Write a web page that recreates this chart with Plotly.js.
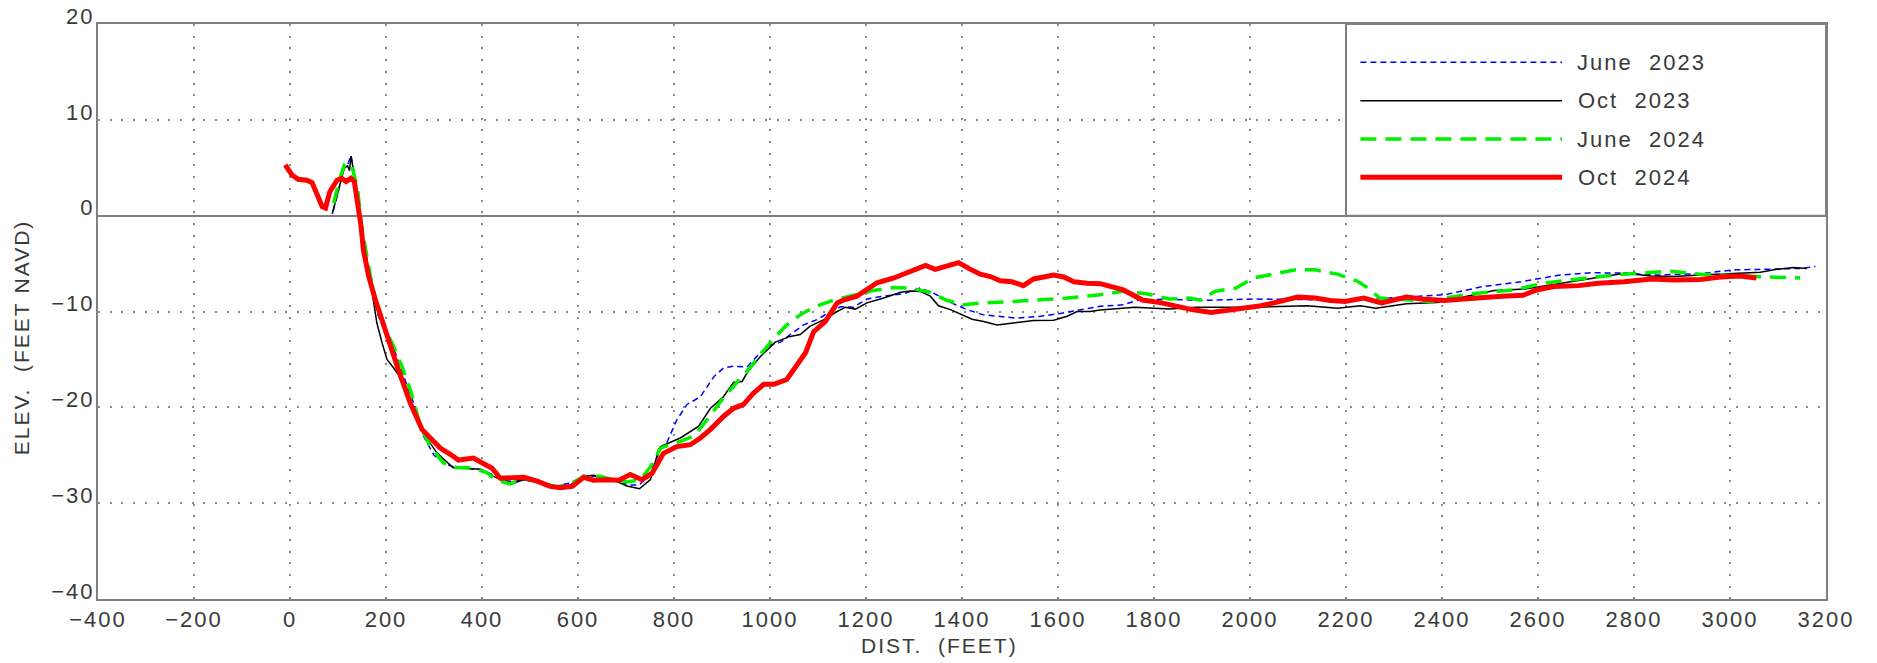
<!DOCTYPE html>
<html>
<head>
<meta charset="utf-8">
<script src="https://cdn.plot.ly/plotly-3.0.1.min.js"></script>
<style>
  html, body { margin: 0; padding: 0; background: #ffffff; }
  #chart { width: 1877px; height: 663px; }
  /* plotter-style lettering: open tracking on every label */
  #chart text { letter-spacing: 2px; }
</style>
</head>
<body>
<div id="chart"></div>
<script>
// Beach profile survey: distance offshore (ft) vs elevation (ft NAVD)
const surveyNames = ["June\u00a0\u00a02023", "Oct\u00a0\u00a02023", "June\u00a0\u00a02024", "Oct\u00a0\u00a02024"];

const june2023Dist = [90, 101, 113, 120, 127, 137, 147, 155, 168, 182, 196, 212, 230, 250, 265, 278, 300, 320, 345, 375,
  400, 425, 445, 466, 490, 520, 556, 584, 612, 640, 681, 709, 728, 751, 772, 785, 806, 827, 855, 883,
  903, 924, 952, 980, 1001, 1022, 1042, 1070, 1098, 1126, 1147, 1174, 1202, 1237, 1278, 1313, 1341, 1376, 1410, 1445,
  1515, 1563, 1605, 1640, 1688, 1736, 1768, 1832, 1895, 2007, 2127, 2206, 2286, 2406, 2485, 2565, 2645, 2709, 2780, 2844,
  2938, 3008, 3077, 3147, 3178];
const june2023Elev = [0.5, 2.8, 5.0, 5.3, 6.3, 3.6, -0.9, -3.0, -6.8, -10.2, -11.9, -13.3, -15.8, -18.5, -20.6, -23.0, -25.0, -25.8, -26.3, -26.4,
  -26.5, -27.1, -27.6, -27.8, -27.4, -27.8, -28.2, -27.9, -27.2, -27.2, -27.7, -28.1, -28.1, -26.85, -24.4, -23.7, -21.3, -19.7, -18.9, -16.8,
  -15.9, -15.7, -15.8, -14.3, -13.5, -13.2, -12.4, -11.4, -10.85, -10.0, -9.5, -9.55, -8.7, -8.4, -8.15, -7.55, -8.1, -9.05, -9.8, -10.35,
  -10.7, -10.5, -10.2, -9.9, -9.45, -9.3, -8.8, -8.7, -8.85, -8.7, -8.8, -8.8, -8.6, -8.25, -7.4, -6.9, -6.2, -5.95, -6.0, -6.2,
  -6.05, -5.65, -5.6, -5.5, -5.3];

const oct2023Dist = [88, 101, 113, 120, 124, 127, 136, 146, 153, 167, 181, 192, 202, 216, 226, 244, 265, 282, 306, 340,
  369, 397, 424, 445, 466, 487, 521, 556, 584, 612, 632, 674, 702, 728, 751, 768, 772, 813, 851, 876,
  903, 924, 942, 952, 980, 1011, 1042, 1063, 1083, 1119, 1140, 1157, 1178, 1202, 1237, 1272, 1292, 1313, 1334, 1351,
  1376, 1400, 1421, 1445, 1473, 1515, 1549, 1591, 1619, 1640, 1667, 1688, 1760, 1832, 1888, 2007, 2119, 2182, 2230, 2262,
  2326, 2390, 2445, 2509, 2573, 2645, 2717, 2780, 2836, 2884, 2938, 3008, 3063, 3098, 3132, 3160];
const oct2023Elev = [0.2, 2.7, 4.95, 5.2, 4.7, 6.2, 3.7, -0.8, -2.5, -6.7, -11.2, -13.3, -15.0, -15.9, -16.6, -18.85, -20.95, -23.0, -24.75, -26.3,
  -26.4, -26.45, -27.2, -27.7, -27.9, -27.55, -27.9, -28.4, -28.1, -27.2, -27.1, -27.6, -28.2, -28.5, -27.55, -24.4, -24.1, -23.2, -22.0, -20.1,
  -18.9, -17.4, -17.3, -16.4, -14.7, -13.2, -12.6, -12.4, -11.55, -10.7, -10.0, -9.55, -9.75, -9.1, -8.6, -8.0, -7.85, -7.9, -8.4, -9.4,
  -9.8, -10.35, -10.8, -11.05, -11.4, -11.15, -10.95, -10.9, -10.5, -10.0, -10.0, -9.85, -9.55, -9.75, -9.55, -9.55, -9.4, -9.65, -9.4, -9.65,
  -9.2, -9.05, -8.5, -7.8, -7.65, -7.05, -6.5, -6.0, -6.3, -6.35, -6.2, -6.0, -5.9, -5.6, -5.4, -5.5];

const june2024Dist = [91, 101, 113, 118, 129, 141, 149, 157, 170, 181, 195, 216, 233, 251, 272, 292, 320, 348, 376, 410,
  428, 459, 487, 520, 556, 584, 612, 646, 674, 702, 730, 751, 772, 813, 841, 869, 897, 924, 952, 980,
  1008, 1035, 1063, 1091, 1133, 1174, 1216, 1258, 1292, 1334, 1369, 1403, 1445, 1508, 1570, 1619, 1688, 1736, 1784, 1832,
  1872, 1897, 1927, 1971, 2007, 2047, 2095, 2135, 2182, 2222, 2246, 2270, 2326, 2378, 2406, 2462, 2549, 2613, 2701, 2780,
  2876, 2938, 3077, 3146];
const june2024Elev = [1.3, 3.4, 5.3, 5.5, 5.2, 2.7, -1.1, -3.4, -7.0, -9.6, -11.5, -13.65, -15.7, -18.2, -22.0, -24.1, -25.8, -26.3, -26.3, -26.8,
  -27.55, -28.0, -27.4, -27.8, -28.3, -28.0, -27.2, -27.2, -27.55, -27.8, -27.55, -26.2, -24.25, -23.55, -23.0, -21.3, -19.4, -17.8, -16.25, -14.5,
  -12.8, -11.4, -10.35, -9.55, -8.8, -8.3, -7.8, -7.5, -7.55, -8.0, -8.85, -9.3, -9.1, -8.95, -8.8, -8.6, -8.25, -7.9, -8.15, -8.7,
  -8.6, -8.8, -7.9, -7.55, -6.5, -6.1, -5.65, -5.65, -6.1, -6.8, -7.55, -8.6, -8.8, -8.95, -8.6, -8.15, -7.75, -7.05, -6.5, -6.1,
  -5.8, -6.1, -6.4, -6.5];

const oct2024Dist = [-10, 4, 17, 35, 46, 56, 67, 74, 78, 83, 98, 108, 117, 127, 134, 141, 148, 153, 164, 178,
  195, 212, 226, 237, 251, 275, 292, 313, 334, 351, 382, 400, 421, 438, 459, 487, 515, 542, 563, 588,
  612, 632, 660, 685, 709, 733, 754, 778, 806, 834, 855, 876, 903, 924, 945, 966, 987, 1008, 1035, 1056,
  1074, 1091, 1115, 1140, 1153, 1181, 1202, 1223, 1258, 1278, 1303, 1324, 1344, 1369, 1393, 1414, 1438, 1459, 1480, 1504,
  1528, 1549, 1570, 1591, 1612, 1633, 1660, 1688, 1736, 1776, 1816, 1848, 1879, 1919, 1967, 2023, 2063, 2099, 2135, 2167,
  2198, 2237, 2274, 2326, 2358, 2406, 2445, 2485, 2525, 2569, 2597, 2633, 2685, 2725, 2780, 2836, 2884, 2938, 2980, 3021,
  3055];
const oct2024Elev = [5.3, 4.25, 3.8, 3.7, 3.45, 2.4, 0.95, 0.8, 1.5, 2.5, 3.7, 3.9, 3.55, 3.9, 3.55, 1.3, -1.1, -3.6, -6.35, -8.8,
  -11.55, -14.0, -16.1, -17.8, -19.6, -22.3, -23.2, -24.25, -24.9, -25.5, -25.3, -25.8, -26.35, -27.4, -27.4, -27.3, -27.7, -28.25, -28.4, -28.25,
  -27.3, -27.6, -27.55, -27.6, -27.0, -27.55, -26.9, -24.8, -24.1, -23.9, -23.2, -22.3, -20.95, -20.1, -19.7, -18.5, -17.6, -17.6, -17.1, -15.7,
  -14.3, -12.1, -11.05, -9.1, -8.8, -8.4, -7.7, -7.0, -6.5, -6.1, -5.7, -5.2, -5.6, -5.2, -4.9, -5.5, -6.1, -6.35, -6.8, -6.9,
  -7.3, -6.6, -6.4, -6.2, -6.4, -6.9, -7.05, -7.1, -7.75, -8.8, -9.1, -9.5, -9.8, -10.1, -9.75, -9.4, -8.95, -8.5, -8.6, -8.85,
  -8.95, -8.6, -9.1, -8.5, -8.7, -8.85, -8.7, -8.5, -8.4, -8.3, -7.75, -7.4, -7.3, -7.05, -6.9, -6.6, -6.7, -6.65, -6.4, -6.3,
  -6.5];

const xTicks = [-400, -200, 0, 200, 400, 600, 800, 1000, 1200, 1400, 1600, 1800, 2000, 2200, 2400, 2600, 2800, 3000, 3200];
const yTicks = [-40, -30, -20, -10, 0, 10, 20];

// line style for each survey (shared by the curve and its key sample)
const styles = [
  { color: "#0000ff", width: 1.5, dash: "6px,4px" },
  { color: "#000000", width: 1.5, dash: "solid" },
  { color: "#00f000", width: 3.5, dash: "16px,9px" },
  { color: "#ff0000", width: 5, dash: "solid" }
];

const series = [
  [june2023Dist, june2023Elev],
  [oct2023Dist, oct2023Elev],
  [june2024Dist, june2024Elev],
  [oct2024Dist, oct2024Elev]
];

const textFont = { family: "Liberation Sans, Arial, sans-serif", size: 22, color: "#3a3a3a" };
const titleFont = { family: "Liberation Sans, Arial, sans-serif", size: 21, color: "#3a3a3a" };

const traces = series.map((s, i) => ({
  type: "scatter",
  mode: "lines",
  name: surveyNames[i],
  x: s[0],
  y: s[1],
  line: { color: styles[i].color, width: styles[i].width, dash: styles[i].dash },
  hoverinfo: "skip"
}));

// key box in the upper-right corner of the plot, in data units
const keyBox = { x0: 2200, x1: 3200, y0: 0, y1: 20 };
const keyRows = [16, 12, 8, 4];
const keyLine = { x0: 2230, x1: 2650, textX: 2697 };

const shapes = [{
  type: "rect", xref: "x", yref: "y",
  x0: keyBox.x0, x1: keyBox.x1, y0: keyBox.y0, y1: keyBox.y1,
  fillcolor: "#ffffff", line: { color: "#808080", width: 2 }, layer: "above"
}];
const annotations = [];
keyRows.forEach((ky, i) => {
  shapes.push({
    type: "line", xref: "x", yref: "y",
    x0: keyLine.x0, x1: keyLine.x1, y0: ky, y1: ky,
    line: { color: styles[i].color, width: styles[i].width, dash: styles[i].dash },
    layer: "above"
  });
  annotations.push({
    xref: "x", yref: "y", x: keyLine.textX, y: ky,
    text: surveyNames[i], showarrow: false,
    xanchor: "left", yanchor: "middle", font: textFont
  });
});

// axis titles
annotations.push({
  xref: "paper", yref: "paper", x: 0.487, y: -0.081,
  text: "DIST.\u00a0\u00a0(FEET)", showarrow: false,
  xanchor: "center", yanchor: "middle", font: titleFont
});
annotations.push({
  xref: "paper", yref: "paper", x: -0.0443, y: 0.456,
  text: "ELEV.\u00a0\u00a0(FEET\u00a0NAVD)", showarrow: false, textangle: -90,
  xanchor: "center", yanchor: "middle", font: titleFont
});

const gridStyle = { showgrid: true, gridcolor: "#8a8a8a", gridwidth: 2, griddash: "2px,9.7px" };

const layout = {
  width: 1877, height: 663,
  margin: { l: 98, r: 51, t: 24, b: 64 },
  paper_bgcolor: "#ffffff", plot_bgcolor: "#ffffff",
  showlegend: false,
  font: textFont,
  xaxis: Object.assign({
    range: [-400, 3200], tickvals: xTicks, ticks: "",
    zeroline: false, showline: true, linecolor: "#808080", linewidth: 2, mirror: true,
    tickfont: textFont
  }, gridStyle),
  yaxis: Object.assign({
    range: [-40, 20], tickvals: yTicks, ticks: "",
    zeroline: true, zerolinecolor: "#808080", zerolinewidth: 2,
    showline: true, linecolor: "#808080", linewidth: 2, mirror: true,
    tickfont: textFont, ticklabelshift: -8, ticklabelstandoff: -3
  }, gridStyle),
  shapes: shapes,
  annotations: annotations
};

Plotly.newPlot("chart", traces, layout, { staticPlot: true, displayModeBar: false });
</script>
</body>
</html>
